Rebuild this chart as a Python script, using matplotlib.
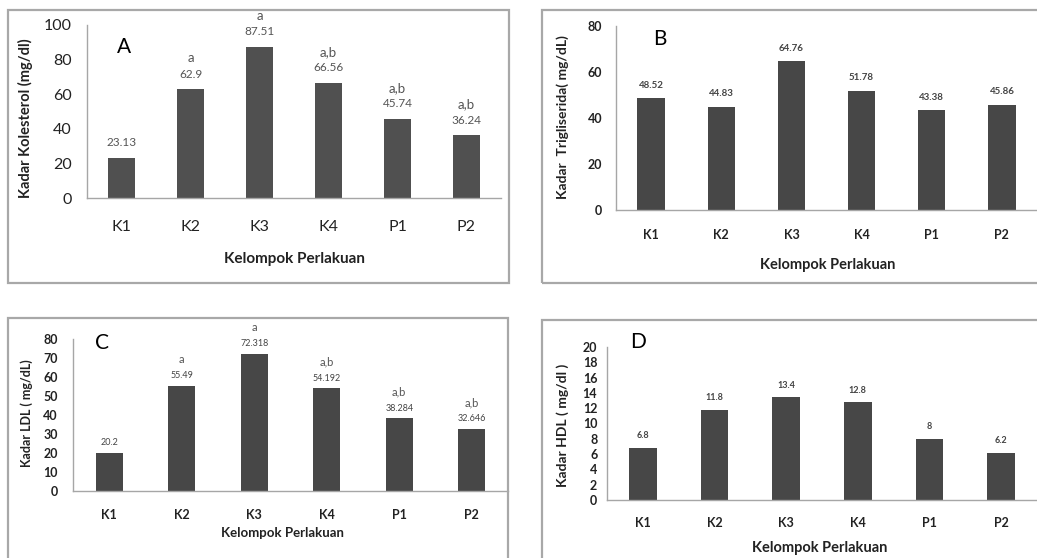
import matplotlib
matplotlib.use("Agg")
import matplotlib.pyplot as plt
from matplotlib.patches import Rectangle

plt.rcParams['font.family'] = ['Lato', 'DejaVu Sans']

groups = ["K1", "K2", "K3", "K4", "P1", "P2"]

kolesterol = [23.13, 62.9, 87.51, 66.56, 45.74, 36.24]
kolesterol_labels = ["23.13", "62.9", "87.51", "66.56", "45.74", "36.24"]
kolesterol_letters = ["", "a", "a", "a,b", "a,b", "a,b"]

trigliserida = [48.52, 44.83, 64.76, 51.78, 43.38, 45.86]
trigliserida_labels = ["48.52", "44.83", "64.76", "51.78", "43.38", "45.86"]

ldl = [20.2, 55.49, 72.318, 54.192, 38.284, 32.646]
ldl_labels = ["20.2", "55.49", "72.318", "54.192", "38.284", "32.646"]
ldl_letters = ["", "a", "a", "a,b", "a,b", "a,b"]

hdl = [6.8, 11.8, 13.4, 12.8, 8, 6.2]
hdl_labels = ["6.8", "11.8", "13.4", "12.8", "8", "6.2"]

W, H = 1037, 558
fig = plt.figure(figsize=(W / 100, H / 100), dpi=100)
fig.patch.set_facecolor("white")


def frame(x0, y0, x1, y1):
    fig.patches.append(Rectangle((x0 / W, 1 - y1 / H), (x1 - x0) / W, (y1 - y0) / H,
                                 transform=fig.transFigure, fill=False,
                                 edgecolor="#a8a8a8", linewidth=1.6, zorder=0))


frame(8, 10, 509, 283)
frame(542, 10, 1060, 283)
frame(8, 318, 508, 580)
frame(542, 320, 1060, 580)


def make_ax(left, right, bottom, top):
    return fig.add_axes([left / W, 1 - bottom / H, (right - left) / W, (bottom - top) / H])


def style(ax, ymax, step, bold_ticks, fs_tick, xpad, ypad):
    ax.set_xlim(-0.5, 5.5)
    ax.set_ylim(0, ymax)
    for s in ("top", "right"):
        ax.spines[s].set_visible(False)
    for s in ("left", "bottom"):
        ax.spines[s].set_color("#a6a6a6")
        ax.spines[s].set_linewidth(1.0)
    ax.set_yticks(list(range(0, ymax + 1, step)))
    ax.set_xticks(range(len(groups)))
    ax.set_xticklabels(groups)
    ax.tick_params(length=0, labelsize=fs_tick)
    ax.tick_params(axis="x", pad=xpad)
    ax.tick_params(axis="y", pad=ypad)
    w = "bold" if bold_ticks else "normal"
    for t in ax.get_xticklabels() + ax.get_yticklabels():
        t.set_fontweight(w)
        t.set_color("#222222")
    ax.patch.set_alpha(0)


def px_to_axes(ax, px, py):
    inv = ax.transAxes.inverted()
    return inv.transform((px, H - py))


def labels(ax, xl, xl_pos, yl, yl_pos, fs):
    ax.set_xlabel(xl, fontsize=fs, fontweight="bold", color="#222222")
    ax.set_ylabel(yl, fontsize=fs - 0.5, fontweight="bold", color="#222222")
    fig.canvas.draw()
    ax.xaxis.set_label_coords(*px_to_axes(ax, *xl_pos))
    ax.xaxis.label.set_va("center")
    ax.yaxis.set_label_coords(*px_to_axes(ax, *yl_pos))
    ax.yaxis.label.set_va("center")


def annotate(ax, values, texts, off, fs, color, weight):
    for i, (v, t) in enumerate(zip(values, texts)):
        if t:
            ax.annotate(t, (i, v), xytext=(0, off * 0.72), textcoords="offset points",
                        ha="center", va="center", fontsize=fs, color=color, fontweight=weight)


# Panel A
axA = make_ax(87, 501, 198, 25)
axA.bar(range(len(groups)), kolesterol, width=0.4, color="#505050")
style(axA, 100, 20, False, 11.5, 16, 11)
labels(axA, "Kelompok Perlakuan", (294, 259), "Kadar Kolesterol (mg/dl)", (25, 118), 11)
annotate(axA, kolesterol, kolesterol_labels, 15, 8.5, "#555555", "normal")
annotate(axA, kolesterol, kolesterol_letters, 31, 9.5, "#555555", "normal")
fig.text(124 / W, 1 - 47 / H, "A", fontsize=15, ha="center", va="center")

# Panel B
axB = make_ax(616, 1037, 210, 26)
axB.bar(range(len(groups)), trigliserida, width=0.39, color="#474747")
style(axB, 80, 20, True, 9, 14, 10)
labels(axB, "Kelompok Perlakuan", (828, 265), "Kadar  Trigliserida( mg/dL)", (563, 117), 10.5)
annotate(axB, trigliserida, trigliserida_labels, 13, 7, "#444444", "bold")
fig.text(660 / W, 1 - 39 / H, "B", fontsize=15, ha="center", va="center")

# Panel C
axC = make_ax(73, 508, 491, 339)
axC.bar(range(len(groups)), ldl, width=0.37, color="#474747")
style(axC, 80, 10, True, 9, 13, 11)
labels(axC, "Kelompok Perlakuan", (282, 533), "Kadar LDL ( mg/dL)", (27, 413), 9.5)
annotate(axC, ldl, ldl_labels, 10, 6.5, "#444444", "normal")
annotate(axC, ldl, ldl_letters, 26, 8, "#555555", "normal")
fig.text(102 / W, 1 - 343 / H, "C", fontsize=15, ha="center", va="center")

# Panel D
axD = make_ax(607, 1037, 500, 347)
axD.bar(range(len(groups)), hdl, width=0.39, color="#474747")
style(axD, 20, 2, True, 9, 12, 7)
labels(axD, "Kelompok Perlakuan", (820, 548), "Kadar HDL ( mg/dl )", (563, 425), 10.5)
annotate(axD, hdl, hdl_labels, 12, 6.5, "#444444", "bold")
fig.text(638 / W, 1 - 342 / H, "D", fontsize=15, ha="center", va="center")

fig.savefig("out.png", dpi=100, facecolor="white")
